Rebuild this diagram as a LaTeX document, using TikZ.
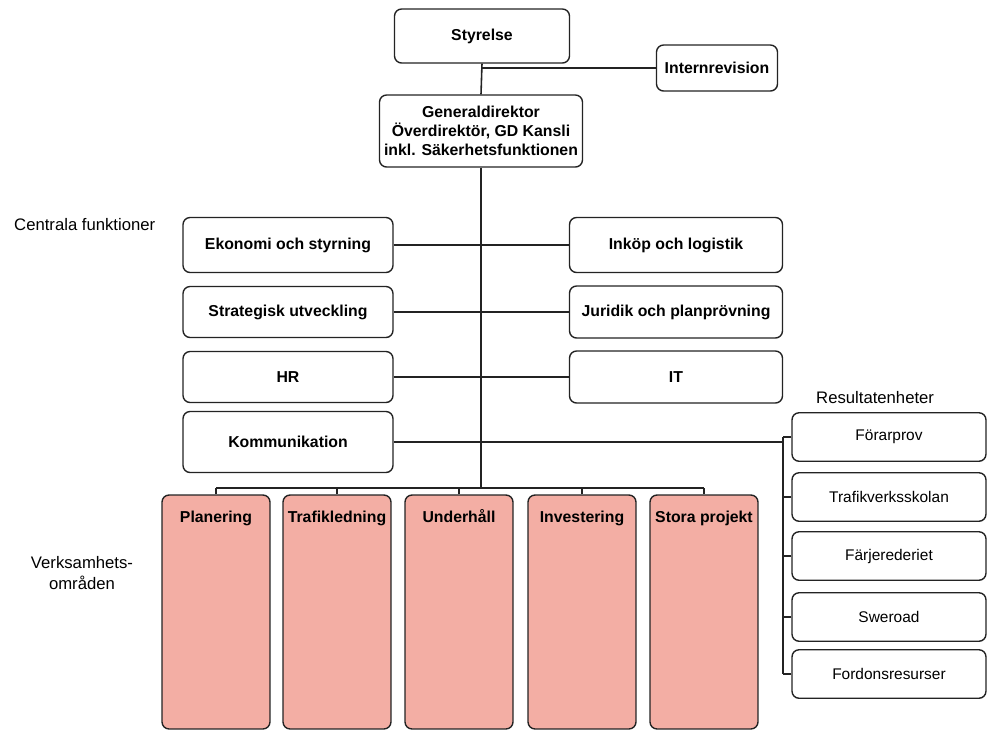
\documentclass[tikz,border=0pt]{standalone}
\usepackage{fontspec}
\setmainfont{Liberation Sans}
\usetikzlibrary{positioning,calc}
\definecolor{orgline}{RGB}{35,35,35}
\definecolor{orgpink}{RGB}{243,174,164}
\tikzset{
  orgbox/.style={draw=orgline, rounded corners=4pt, fill=white, align=center,
                 font=\bfseries\fontsize{9}{10.8}\selectfont, line width=0.8pt,
                 inner sep=1pt},
  unitbox/.style={orgbox, font=\fontsize{8.8}{10}\selectfont,
                  minimum width=3.88cm, minimum height=0.97cm},
  areabox/.style={orgbox, fill=orgpink, minimum width=2.16cm, minimum height=4.68cm},
  areatitle/.style={anchor=north, font=\bfseries\fontsize{9}{10.8}\selectfont,
                    inner sep=0pt, text height=0.75em, text depth=0.22em, yshift=-0.3cm},
  grouplabel/.style={font=\fontsize{9.5}{11.5}\selectfont, align=center},
  link/.style={draw=orgline, line width=0.9pt},
}

\begin{document}
\begin{tikzpicture}[x=0.02cm, y=-0.02cm]
\useasboundingbox (0,0) rectangle (988,731);

% ---------------- top: board and director general ----------------
\node[orgbox, minimum width=3.5cm, minimum height=1.08cm] (styr) at (482,36) {Styrelse};
\node[orgbox, minimum width=2.42cm, minimum height=0.92cm] (irev) at (717,68) {Internrevision};
\node[orgbox, minimum width=4.06cm, minimum height=1.44cm] (gd) at (481,131)
  {Generaldirektor\\Överdirektör, GD Kansli\\inkl. Säkerhetsfunktionen};

\draw[link] (styr.south) -- (gd.north);
\draw[link] (irev.west) -- (irev.west -| styr.south);

% ---------------- middle: central functions -----------------------
\node[grouplabel, anchor=west] (centr) at (8,225) {Centrala funktioner};

\node[orgbox, minimum width=4.2cm, minimum height=1.1cm]  (ekon)  at (288,245) {Ekonomi och styrning};
\node[orgbox, minimum width=4.2cm, minimum height=1.02cm] (strat) at (288,312) {Strategisk utveckling};
\node[orgbox, minimum width=4.2cm, minimum height=1.02cm] (hr)    at (288,377) {HR};
\node[orgbox, minimum width=4.2cm, minimum height=1.22cm] (komm)  at (288,442) {Kommunikation};

\node[orgbox, minimum width=4.26cm, minimum height=1.1cm]  (inkop) at (676,245) {Inköp och logistik};
\node[orgbox, minimum width=4.26cm, minimum height=1.04cm] (jur)   at (676,312) {Juridik och planprövning};
\node[orgbox, minimum width=4.26cm, minimum height=1.04cm] (it)    at (676,377) {IT};

\draw[link] (ekon.east) -- (inkop.west);
\draw[link] (strat.east) -- (jur.west);
\draw[link] (hr.east) -- (it.west);

% ---------------- right: result units -----------------------------
\node[grouplabel, anchor=west] (reslbl) at (810,398) {Resultatenheter};

\coordinate (rbar) at (783,0);
\foreach \n/\y/\t in {forar/437/Förarprov, tvs/497/Trafikverksskolan,
                      farj/556/Färjerederiet, swe/617/Sweroad, fordon/674/Fordonsresurser}
{
  \node[unitbox] (\n) at (889,\y) {\t};
  \draw[link] (\n.west) -- (\n.west -| rbar);
}
\draw[link] (forar.west -| rbar) -- (fordon.west -| rbar);
\draw[link] (komm.east) -- (komm.east -| rbar);

% ---------------- bottom: business areas --------------------------
\node[grouplabel] (vlbl) at (82,573) {Verksamhets-\\områden};

\coordinate (bus) at (481,488);
\foreach \n/\x/\t in {plan/216/Planering, traf/337/Trafikledning, under/459/Underhåll,
                      inv/582/Investering, stora/704/Stora projekt}
{
  \node[areabox] (\n) at (\x,612) {};
  \node[areatitle] (\n t) at (\n.north) {\t};
  \draw[link] (\n.north) -- (\n.north |- bus);
}
\draw[link] (plan.north |- bus) -- (stora.north |- bus);
\draw[link] (gd.south) -- (bus);
\end{tikzpicture}
\end{document}
